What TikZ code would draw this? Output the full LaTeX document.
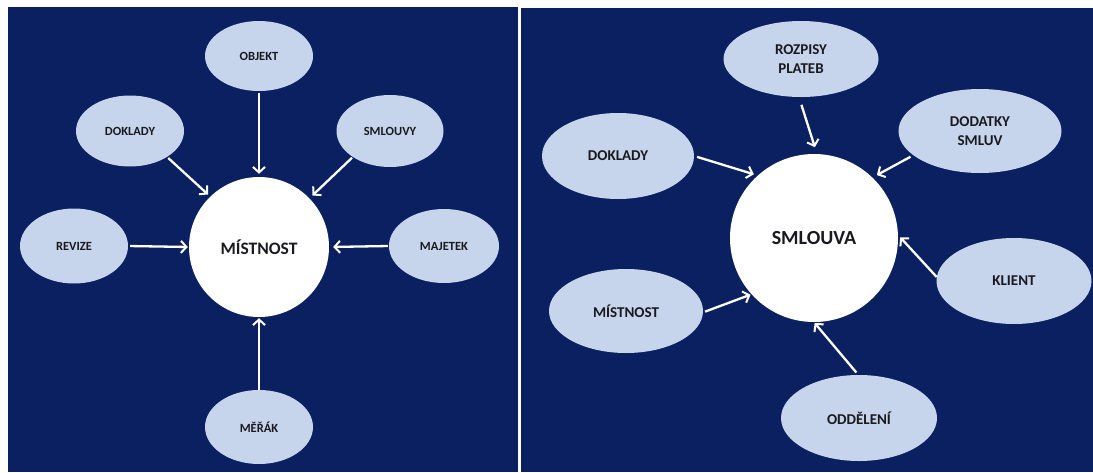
\documentclass[tikz,border=0pt]{standalone}
\usepackage{fontspec}
\setmainfont{Carlito}
\usetikzlibrary{shapes.geometric,arrows.meta}
\definecolor{navy}{RGB}{10,32,96}
\definecolor{bubc}{RGB}{198,212,236}
\definecolor{ink}{RGB}{26,26,30}
\begin{document}
\begin{tikzpicture}[x=1pt,y=-1pt,
  bubL/.style={ellipse, fill=bubc, inner sep=0pt, text=ink,
    font=\bfseries\fontsize{12.5}{15}\selectfont},
  bubR/.style={ellipse, fill=bubc, inner sep=0pt, text=ink, align=center,
    font=\bfseries\fontsize{15}{19}\selectfont},
  hub/.style={circle, fill=white, inner sep=0pt, text=ink},
  arr/.style={draw=white, line width=2.3pt,
    -{Straight Barb[length=5.5pt,width=12pt,line width=2pt]}}]
\useasboundingbox (0,0) rectangle (1093,472);
\fill[white] (0,0) rectangle (1093,472);
\fill[navy] (8,7) rectangle (518,472);
\fill[navy] (521,8) rectangle (1093,472);

% ---------------- left panel ----------------
\node[hub, minimum size=140pt, font=\bfseries\fontsize{17.5}{20}\selectfont] (mistL) at (259,247) {MÍSTNOST};
\node[bubL, minimum width=108pt, minimum height=70pt] (objekt) at (259,56) {OBJEKT};
\node[bubL, minimum width=108pt, minimum height=71pt] (dokL) at (130,131) {DOKLADY};
\node[bubL, minimum width=107pt, minimum height=72pt] (smlouvy) at (390,131) {SMLOUVY};
\node[bubL, minimum width=108pt, minimum height=75pt] (revize) at (74,246) {REVIZE};
\node[bubL, minimum width=110pt, minimum height=74pt] (majetek) at (444,246) {MAJETEK};
\node[bubL, minimum width=108pt, minimum height=74pt] (merak) at (259,427) {MĚŘÁK};

\draw[arr, shorten <=2pt, shorten >=3pt] (objekt.south) -- (mistL.north);
\draw[arr, shorten <=1.5pt, shorten >=3pt] (dokL.-35) -- (mistL.134);
\draw[arr, shorten <=1pt, shorten >=4pt] (smlouvy.215.6) -- (mistL.44.6);
\draw[arr, shorten <=2pt, shorten >=1pt] (revize.east) -- (mistL.west);
\draw[arr, shorten <=1pt, shorten >=4pt] (majetek.west) -- (mistL.east);
\draw[arr, shorten <=0pt, shorten >=1pt] (merak.north) -- (mistL.south);

% ---------------- right panel ----------------
\node[hub, minimum size=168pt, font=\bfseries\fontsize{20}{24}\selectfont] (smlouva) at (814,238) {SMLOUVA};
\node[bubR, minimum width=155pt, minimum height=76pt] (rozpisy) at (801,59) {ROZPISY\\PLATEB};
\node[bubR, minimum width=163pt, minimum height=84pt] (dodatky) at (980,131) {DODATKY\\SMLUV};
\node[bubR, minimum width=152pt, minimum height=86pt] (dokR) at (618,156) {DOKLADY};
\node[bubR, minimum width=154pt, minimum height=84pt] (mistR) at (626,311) {MÍSTNOST};
\node[bubR, minimum width=155pt, minimum height=86pt] (klient) at (1014,281) {KLIENT};
\node[bubR, minimum width=156pt, minimum height=86pt] (oddeleni) at (859,418) {ODDĚLENÍ};

\draw[arr, shorten <=8pt, shorten >=7pt] (rozpisy.-93) -- (smlouva.88);
\draw[arr, shorten <=3pt, shorten >=5pt] (dodatky.200.5) -- (smlouva.46);
\draw[arr, shorten <=3pt, shorten >=4pt] (dokR.0) -- (smlouva.132.7);
\draw[arr, shorten <=2pt, shorten >=1pt] (mistR.-1.3) -- (smlouva.222);
\draw[arr, shorten <=0pt, shorten >=3pt] (klient.177) -- (smlouva.2.2);
\draw[arr, shorten <=3pt, shorten >=1pt] (oddeleni.91) -- (smlouva.270.7);
\end{tikzpicture}
\end{document}
